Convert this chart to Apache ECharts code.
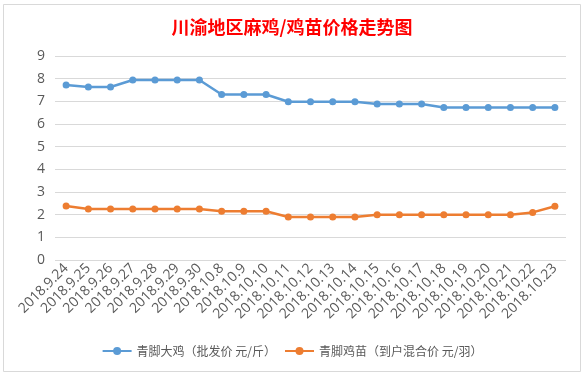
<!DOCTYPE html>
<html>
<head>
<meta charset="utf-8">
<script src="https://cdn.jsdelivr.net/npm/echarts@6/dist/echarts.min.js"></script>
<style>
html,body{margin:0;padding:0;background:#fff;}
#c{width:584px;height:375px;}
</style>
</head>
<body>
<div id="c"></div>
<script>
var categories = ['2018.9.24','2018.9.25','2018.9.26','2018.9.27','2018.9.28','2018.9.29','2018.9.30','2018.10.8','2018.10.9','2018.10.10','2018.10.11','2018.10.12','2018.10.13','2018.10.14','2018.10.15','2018.10.16','2018.10.17','2018.10.18','2018.10.19','2018.10.20','2018.10.21','2018.10.22','2018.10.23'];
var bigChicken = [7.72,7.63,7.63,7.94,7.94,7.94,7.94,7.3,7.3,7.3,6.98,6.98,6.98,6.98,6.88,6.88,6.88,6.73,6.73,6.73,6.73,6.73,6.73];
var chick = [2.38,2.25,2.25,2.25,2.25,2.25,2.25,2.15,2.15,2.15,1.9,1.9,1.9,1.9,2.0,2.0,2.0,2.0,2.0,2.0,2.0,2.1,2.37];
var seriesNames = ['青脚大鸡（批发价 元/斤）','青脚鸡苗（到户混合价 元/羽）'];
var titleText = '川渝地区麻鸡/鸡苗价格走势图';

var chart = echarts.init(document.getElementById('c'), null, {renderer:'canvas'});
var grey = '#595959';
chart.setOption({
  animation:false,
  backgroundColor:'#ffffff',
  graphic:[{type:'rect',shape:{x:3.5,y:4.5,width:577,height:367},style:{fill:null,stroke:'#d9d9d9',lineWidth:1},silent:true}],
  title:{text:titleText,left:'center',top:13,textStyle:{color:'#ff0000',fontSize:18,fontWeight:'bold',fontFamily:'Noto Sans CJK SC'}},
  legend:{bottom:13,left:'center',itemWidth:29,itemHeight:10,itemGap:8,
    textStyle:{color:grey,fontSize:12,fontFamily:'Noto Sans CJK SC'},
    data:seriesNames},
  grid:{left:55,right:18,top:56,bottom:115,containLabel:false},
  xAxis:{type:'category',data:categories,boundaryGap:true,
    axisLine:{show:false},axisTick:{show:false},
    axisLabel:{rotate:45,interval:0,color:grey,fontSize:14,fontFamily:'Open Sans',margin:6}},
  yAxis:{type:'value',min:0,max:9,interval:1,
    axisLine:{show:false},axisTick:{show:false},
    axisLabel:{color:grey,fontSize:14,fontFamily:'Open Sans',margin:10},
    splitLine:{lineStyle:{color:'#d9d9d9',width:1}}},
  series:[
    {name:seriesNames[0],type:'line',data:bigChicken,symbol:'circle',symbolSize:7,
      lineStyle:{width:2.5,color:'#5b9bd5'},itemStyle:{color:'#5b9bd5'}},
    {name:seriesNames[1],type:'line',data:chick,symbol:'circle',symbolSize:7,
      lineStyle:{width:2.5,color:'#ed7d31'},itemStyle:{color:'#ed7d31'}}
  ]
});
</script>
</body>
</html>
